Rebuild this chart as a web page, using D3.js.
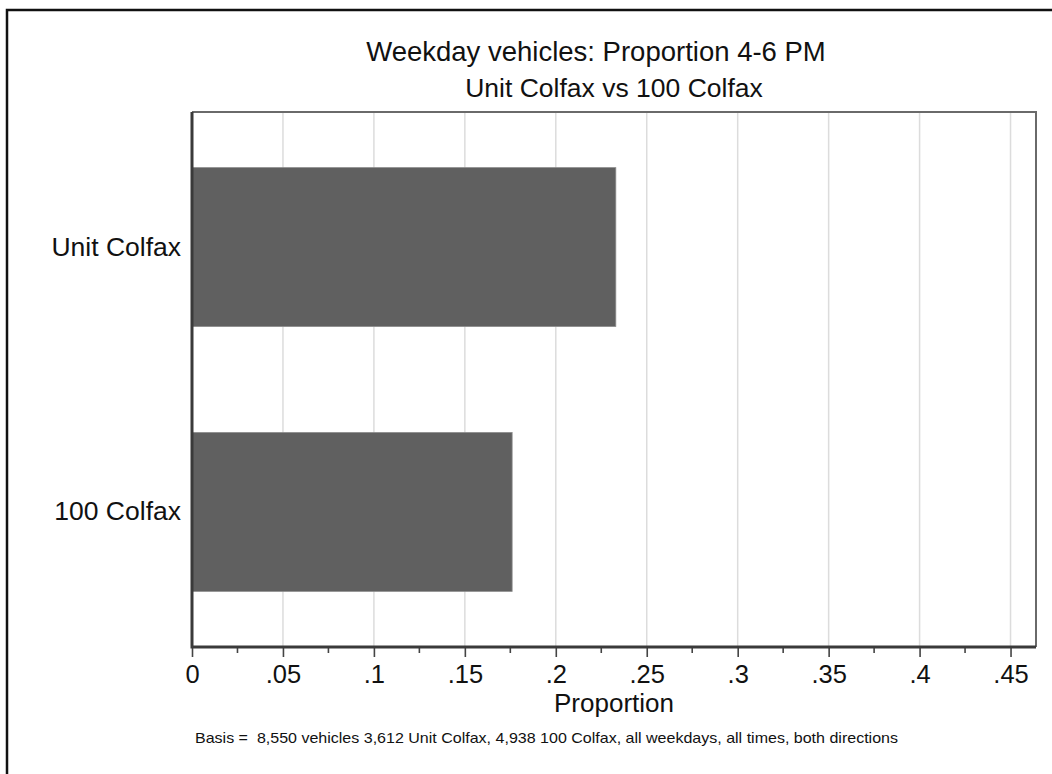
<!DOCTYPE html>
<html>
<head>
<meta charset="utf-8">
<script src="https://cdn.jsdelivr.net/npm/d3@7"></script>
<style>
  body { margin: 0; background: #fff; }
  svg { display: block; font-family: "Liberation Sans", Arial, Helvetica, sans-serif; }
</style>
</head>
<body>
<svg width="1052" height="774"></svg>
<script>
var width = 1052,
    height = 774;

// data
var categories = ["Unit Colfax", "100 Colfax"];
var proportions = [0.233, 0.176];
var majorTicks = [0, 0.05, 0.1, 0.15, 0.2, 0.25, 0.3, 0.35, 0.4, 0.45];
var minorTicks = [0.025, 0.075, 0.125, 0.175, 0.225, 0.275, 0.325, 0.375, 0.425];
var tickLabels = ["0", ".05", ".1", ".15", ".2", ".25", ".3", ".35", ".4", ".45"];

var titleText = "Weekday vehicles: Proportion 4-6 PM";
var subtitleText = "Unit Colfax vs 100 Colfax";
var xTitle = "Proportion";
var noteText = "Basis =  8,550 vehicles 3,612 Unit Colfax, 4,938 100 Colfax, all weekdays, all times, both directions";

var margin = {top: 112, right: 16, bottom: 127, left: 192};
var plotW = width - margin.left - margin.right,
    plotH = height - margin.top - margin.bottom;

var svg = d3.select("svg");

// outer frame (left + top only)
svg.append("path")
   .attr("d", "M7,774 V10 H1052")
   .attr("fill", "none")
   .attr("stroke", "#111")
   .attr("stroke-width", 2.5);

var x = d3.scaleLinear()
    .domain([0, 0.464])
    .range([0, plotW]);

var y = d3.scaleBand()
    .domain(categories)
    .range([0, plotH])
    .paddingInner(0.4)
    .paddingOuter(0.21);

var g = svg.append("g")
    .attr("transform", "translate(" + margin.left + "," + margin.top + ")");

// gridlines
g.append("g")
  .attr("class", "grid")
  .selectAll("line")
  .data(majorTicks.slice(1))
  .enter().append("line")
  .attr("x1", function(d) { return x(d); })
  .attr("x2", function(d) { return x(d); })
  .attr("y1", 0)
  .attr("y2", plotH)
  .attr("stroke", "#dcdcdc")
  .attr("stroke-width", 1.5);

// top and right plot borders
g.append("path")
  .attr("d", "M0,0 H" + plotW + " V" + plotH)
  .attr("fill", "none")
  .attr("stroke", "#6a6a6a")
  .attr("stroke-width", 2);

// bars
g.append("g")
  .selectAll("rect")
  .data(proportions)
  .enter().append("rect")
  .attr("x", 0)
  .attr("y", function(d, i) { return y(categories[i]); })
  .attr("width", function(d) { return x(d); })
  .attr("height", y.bandwidth())
  .attr("fill", "#606060")
  .attr("stroke", "#8c8c8c")
  .attr("stroke-width", 0.8);

// x axis
var xAxis = d3.axisBottom(x)
    .tickValues(majorTicks)
    .tickFormat(function(d, i) { return tickLabels[i]; })
    .tickSize(10)
    .tickPadding(8);

var xg = g.append("g")
  .attr("transform", "translate(0," + plotH + ")")
  .call(xAxis);
xg.select(".domain").remove();
xg.selectAll(".tick line").attr("stroke", "#444").attr("stroke-width", 1.6);
xg.selectAll(".tick text")
  .attr("fill", "#111")
  .style("font-size", "25.5px")
  .style("font-family", "'Liberation Sans', Arial, sans-serif");

// minor ticks
g.append("g")
  .selectAll("line")
  .data(minorTicks)
  .enter().append("line")
  .attr("x1", function(d) { return x(d); })
  .attr("x2", function(d) { return x(d); })
  .attr("y1", plotH)
  .attr("y2", plotH + 6)
  .attr("stroke", "#444")
  .attr("stroke-width", 1.6);

// axis lines (left and bottom)
g.append("path")
  .attr("d", "M0,0 V" + plotH + " H" + plotW)
  .attr("fill", "none")
  .attr("stroke", "#3a3a3a")
  .attr("stroke-width", 3);

// y axis labels
var yAxis = d3.axisLeft(y).tickSize(0).tickPadding(11);
var yg = g.append("g").call(yAxis);
yg.select(".domain").remove();
yg.selectAll(".tick text")
  .attr("fill", "#111")
  .style("font-size", "26.5px")
  .style("font-family", "'Liberation Sans', Arial, sans-serif");

// titles
svg.append("text")
   .attr("x", 596)
   .attr("y", 61)
   .attr("text-anchor", "middle")
   .attr("fill", "#111")
   .style("font-size", "27.5px")
   .text(titleText);

svg.append("text")
   .attr("x", 614)
   .attr("y", 97)
   .attr("text-anchor", "middle")
   .attr("fill", "#111")
   .style("font-size", "26.5px")
   .text(subtitleText);

svg.append("text")
   .attr("x", margin.left + plotW / 2)
   .attr("y", 712)
   .attr("text-anchor", "middle")
   .attr("fill", "#111")
   .style("font-size", "26px")
   .text(xTitle);

svg.append("text")
   .attr("x", 195)
   .attr("y", 743)
   .attr("fill", "#111")
   .attr("textLength", 703)
   .attr("lengthAdjust", "spacingAndGlyphs")
   .style("white-space", "pre")
   .style("font-size", "15px")
   .text(noteText);
</script>
</body>
</html>
